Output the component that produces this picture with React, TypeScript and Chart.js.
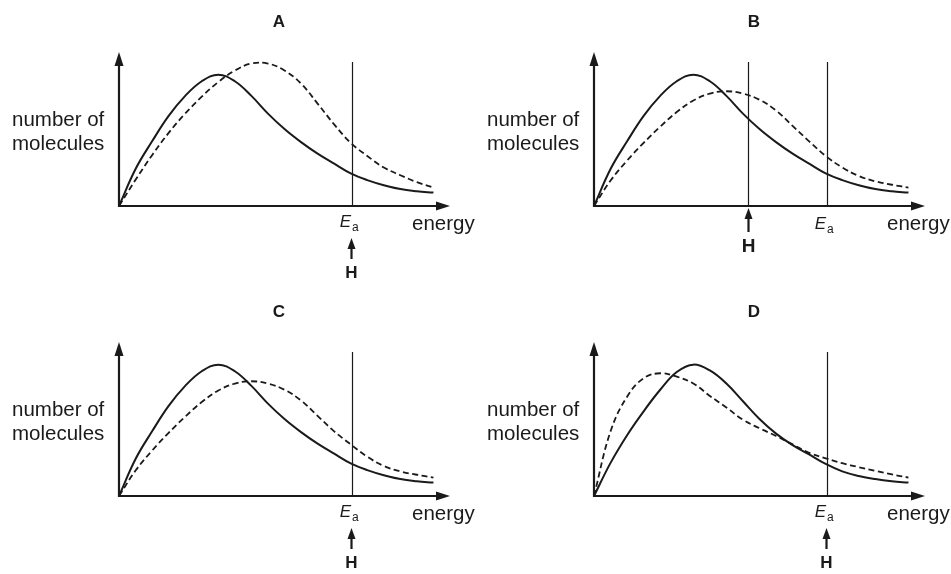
import React, { useEffect, useRef } from "react";
import { Chart, registerables } from "chart.js";

Chart.register(...registerables);

// energy grid (arbitrary units, axis runs 0..100)
const ENERGY = [0, 5, 10, 15, 20, 25, 30, 35, 40, 45, 50, 55, 60, 65, 70, 75, 80, 85, 90, 95];

// number of molecules (arbitrary units, axis runs 0..100)
const SOLID_A = [0, 24, 42, 58.5, 71.5, 81, 85.3, 81, 71.5, 60, 50, 41.5, 34, 27.5, 21.2, 16.8, 13.5, 11, 9.6, 8.7];
const DASHED_A = [0, 17, 33, 47.5, 60, 71, 80.5, 88, 92.5, 92.5, 88, 79.5, 66.5, 53, 41, 32.5, 25, 20, 15.5, 12];
const SOLID_B = [0, 24, 42, 58.5, 71.5, 81, 85.3, 81, 71.5, 60, 50, 41.5, 34, 27.5, 21.2, 16.8, 13.5, 11, 9.6, 8.7];
const DASHED_B = [0, 16.5, 29.5, 41, 51.5, 61, 68.5, 73, 74.5, 73, 69, 62, 52, 42, 32.5, 25, 19.5, 16, 13.8, 12];
const SOLID_C = [0, 24, 42, 58.5, 71.5, 81, 85.3, 81, 71.5, 60, 50, 41.5, 34, 27.5, 21.2, 16.8, 13.5, 11, 9.6, 8.7];
const DASHED_C = [0, 16.5, 29.5, 41, 51.5, 61, 68.5, 73, 74.5, 73, 69, 62, 52, 42, 33.5, 25.5, 19.5, 16, 13.8, 12];
const SOLID_D = [0, 21.5, 39.5, 55, 69, 80.5, 85.3, 81.5, 73, 61.5, 50, 40.5, 33, 27, 20.8, 16, 13, 11, 9.6, 8.7];
const DASHED_D = [0, 42, 64.5, 76.5, 79.7, 77.5, 73, 65, 57.5, 49.5, 44, 39, 33.5, 28, 24.5, 21.3, 18.7, 16.3, 14, 12];

const EA_VALUE = 70.4;
const H_VALUE_B = 46.5;
const LINE_TOP = 93.5;

const TITLES = ["A", "B", "C", "D"];
const Y_LABEL = ["number of", "molecules"];
const X_LABEL = "energy";
const EA_MAIN = "E";
const EA_SUB = "a";
const H_LABEL = "H";

type PanelProps = {
  title: string;
  solid: number[];
  dashed: number[];
  hValue: number | null;
  left: number;
  top: number;
  width: number;
  height: number;
  bottomPad: number;
};

const FONT = '"Liberation Sans", Arial, sans-serif';
const INK = "#1a1a1a";

function Panel(props: PanelProps) {
  const ref = useRef<HTMLCanvasElement | null>(null);
  useEffect(() => {
    const canvas = ref.current;
    if (!canvas) return;
    const toPts = (arr: number[]) => arr.map((v, i) => ({ x: ENERGY[i], y: v }));
    const deco = {
      id: "deco",
      afterDatasetsDraw(chart: any) {
        const ctx = chart.ctx;
        const xs = chart.scales.x;
        const ys = chart.scales.y;
        const x0 = xs.getPixelForValue(0);
        const y0 = ys.getPixelForValue(0);
        const xEnd = xs.getPixelForValue(100);
        const yTop = ys.getPixelForValue(100);
        const lineTop = ys.getPixelForValue(LINE_TOP);
        const eaX = xs.getPixelForValue(EA_VALUE);
        ctx.save();
        ctx.strokeStyle = INK;
        ctx.fillStyle = INK;
        // vertical lines
        ctx.lineWidth = 1.2;
        const vlines = [EA_VALUE];
        if (props.hValue !== null) vlines.push(props.hValue);
        vlines.forEach((v) => {
          const px = Math.round(xs.getPixelForValue(v)) + 0.5;
          ctx.beginPath();
          ctx.moveTo(px, lineTop);
          ctx.lineTo(px, y0);
          ctx.stroke();
        });
        // axes
        ctx.lineWidth = 2.2;
        ctx.beginPath();
        ctx.moveTo(x0, y0);
        ctx.lineTo(xEnd - 10, y0);
        ctx.stroke();
        ctx.beginPath();
        ctx.moveTo(xEnd, y0);
        ctx.lineTo(xEnd - 14, y0 - 4.5);
        ctx.lineTo(xEnd - 14, y0 + 4.5);
        ctx.closePath();
        ctx.fill();
        ctx.beginPath();
        ctx.moveTo(x0, y0 + 1);
        ctx.lineTo(x0, yTop + 10);
        ctx.stroke();
        ctx.beginPath();
        ctx.moveTo(x0, yTop);
        ctx.lineTo(x0 - 4.5, yTop + 14);
        ctx.lineTo(x0 + 4.5, yTop + 14);
        ctx.closePath();
        ctx.fill();

        // title
        ctx.textBaseline = "alphabetic";
        ctx.textAlign = "center";
        ctx.font = `bold 17px ${FONT}`;
        ctx.fillText(props.title, x0 + 160, 27);

        // y label
        ctx.textAlign = "left";
        ctx.font = `20.5px ${FONT}`;
        ctx.fillText(Y_LABEL[0], 12, y0 - 80);
        ctx.fillText(Y_LABEL[1], 12, y0 - 56);

        // x label
        ctx.fillText(X_LABEL, 412, y0 + 24);

        // Ea label
        const eaDrop = props.hValue !== null ? 23 : 21;
        ctx.font = `italic 17px ${FONT}`;
        ctx.textAlign = "right";
        ctx.fillText(EA_MAIN, eaX - 1, y0 + eaDrop);
        ctx.textAlign = "left";
        ctx.font = `12px ${FONT}`;
        ctx.fillText(EA_SUB, eaX, y0 + eaDrop + 4);

        // H arrow
        const drawArrow = (px: number, tip: number, shaftEnd: number) => {
          ctx.beginPath();
          ctx.moveTo(px, tip);
          ctx.lineTo(px - 4, tip + 11);
          ctx.lineTo(px + 4, tip + 11);
          ctx.closePath();
          ctx.fill();
          ctx.lineWidth = 2.2;
          ctx.beginPath();
          ctx.moveTo(px, tip + 8);
          ctx.lineTo(px, shaftEnd);
          ctx.stroke();
        };
        ctx.textAlign = "center";
        if (props.hValue === null) {
          const px = Math.round(eaX) - 0.5;
          drawArrow(px, y0 + 32, y0 + 53);
          ctx.font = `bold 17px ${FONT}`;
          ctx.fillText(H_LABEL, px, y0 + 72);
        } else {
          const px = Math.round(xs.getPixelForValue(props.hValue)) + 0.5;
          drawArrow(px, y0 + 2, y0 + 26);
          ctx.font = `bold 19px ${FONT}`;
          ctx.fillText(H_LABEL, px, y0 + 46);
        }
        ctx.restore();
      },
    };
    const chart = new Chart(canvas, {
      type: "line",
      data: {
        datasets: [
          {
            label: "dashed",
            data: toPts(props.dashed),
            borderColor: INK,
            borderWidth: 1.8,
            borderDash: [6, 3.5],
            pointRadius: 0,
            tension: 0.4,
            fill: false,
          },
          {
            label: "solid",
            data: toPts(props.solid),
            borderColor: INK,
            borderWidth: 2,
            pointRadius: 0,
            tension: 0.4,
            fill: false,
          },
        ],
      },
      options: {
        animation: false,
        responsive: false,
        devicePixelRatio: 1,
        clip: false as any,
        layout: { padding: { left: 119, right: 25, top: 52, bottom: props.bottomPad } },
        plugins: { legend: { display: false }, tooltip: { enabled: false }, title: { display: false } },
        events: [],
        scales: {
          x: { type: "linear", min: 0, max: 100, display: false },
          y: { type: "linear", min: 0, max: 100, display: false },
        },
      },
      plugins: [deco],
    } as any);
    return () => chart.destroy();
  }, []);
  return (
    <canvas
      ref={ref}
      width={props.width}
      height={props.height}
      style={{ position: "absolute", left: props.left, top: props.top, width: props.width, height: props.height }}
    />
  );
}

export default function App() {
  return (
    <div style={{ position: "fixed", left: 0, top: 0, width: 951, height: 574, background: "#fff", overflow: "hidden" }}>
      <Panel title={TITLES[0]} solid={SOLID_A} dashed={DASHED_A} hValue={null} left={0} top={0} width={475} height={290} bottomPad={84} />
      <Panel title={TITLES[1]} solid={SOLID_B} dashed={DASHED_B} hValue={H_VALUE_B} left={475} top={0} width={475} height={290} bottomPad={84} />
      <Panel title={TITLES[2]} solid={SOLID_C} dashed={DASHED_C} hValue={null} left={0} top={290} width={475} height={284} bottomPad={78} />
      <Panel title={TITLES[3]} solid={SOLID_D} dashed={DASHED_D} hValue={null} left={475} top={290} width={475} height={284} bottomPad={78} />
    </div>
  );
}
